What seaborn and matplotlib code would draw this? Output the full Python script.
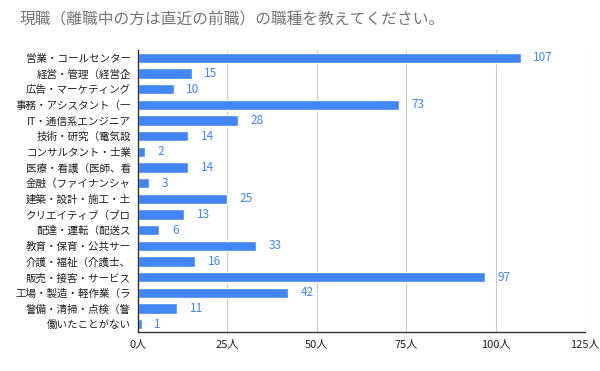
import matplotlib
matplotlib.use('Agg')
import matplotlib.pyplot as plt
import seaborn as sns
import pandas as pd

# data
jobs = ['営業・コールセンター', '経営・管理（経営企', '広告・マーケティング', '事務・アシスタント（一',
        'IT・通信系エンジニア', '技術・研究（電気設', 'コンサルタント・士業', '医療・看護（医師、看',
        '金融（ファイナンシャ', '建築・設計・施工・土', 'クリエイティブ（プロ', '配達・運転（配送ス',
        '教育・保育・公共サー', '介護・福祉（介護士、', '販売・接客・サービス', '工場・製造・軽作業（ラ',
        '警備・清掃・点検（警', '働いたことがない']
counts = [107, 15, 10, 73, 28, 14, 2, 14, 3, 25, 13, 6, 33, 16, 97, 42, 11, 1]
xticks = [0, 25, 50, 75, 100, 125]

df = pd.DataFrame({'job': jobs, 'n': counts})

sns.set_style('white')
plt.rcParams['font.family'] = ['Noto Sans CJK JP', 'DejaVu Sans']

fig = plt.figure(figsize=(6, 3.71), dpi=100)
ax = fig.add_axes([0.23, 0.105, 0.745, 0.76])

sns.barplot(data=df, x='n', y='job', color='#4285F4', saturation=1, width=0.65, ax=ax)

for i, v in enumerate(counts):
    ax.text(v + 3.5, i, str(v), color='#4285F4', fontsize=8.5, va='center', ha='left')

ax.set_xlim(0, 125)
ax.set_xticks(xticks)
ax.set_xticklabels([f'{t}人' for t in xticks], fontsize=8, color='#222222')
ax.tick_params(axis='y', labelsize=7.6, length=0, pad=5, colors='#222222')
ax.tick_params(axis='x', length=0, pad=5)
ax.grid(axis='x', color='#cccccc', lw=0.8)
ax.set_axisbelow(True)
ax.set_xlabel('')
ax.set_ylabel('')
for s in ['top', 'right']:
    ax.spines[s].set_visible(False)
ax.spines['left'].set_color('#333333')
ax.spines['bottom'].set_color('#333333')
ax.spines['left'].set_linewidth(1)
ax.spines['bottom'].set_linewidth(1)

fig.text(0.033, 0.945, '現職（離職中の方は直近の前職）の職種を教えてください。',
         fontsize=11.3, color='#757575', va='center', ha='left')

fig.savefig('out.png', dpi=100)
